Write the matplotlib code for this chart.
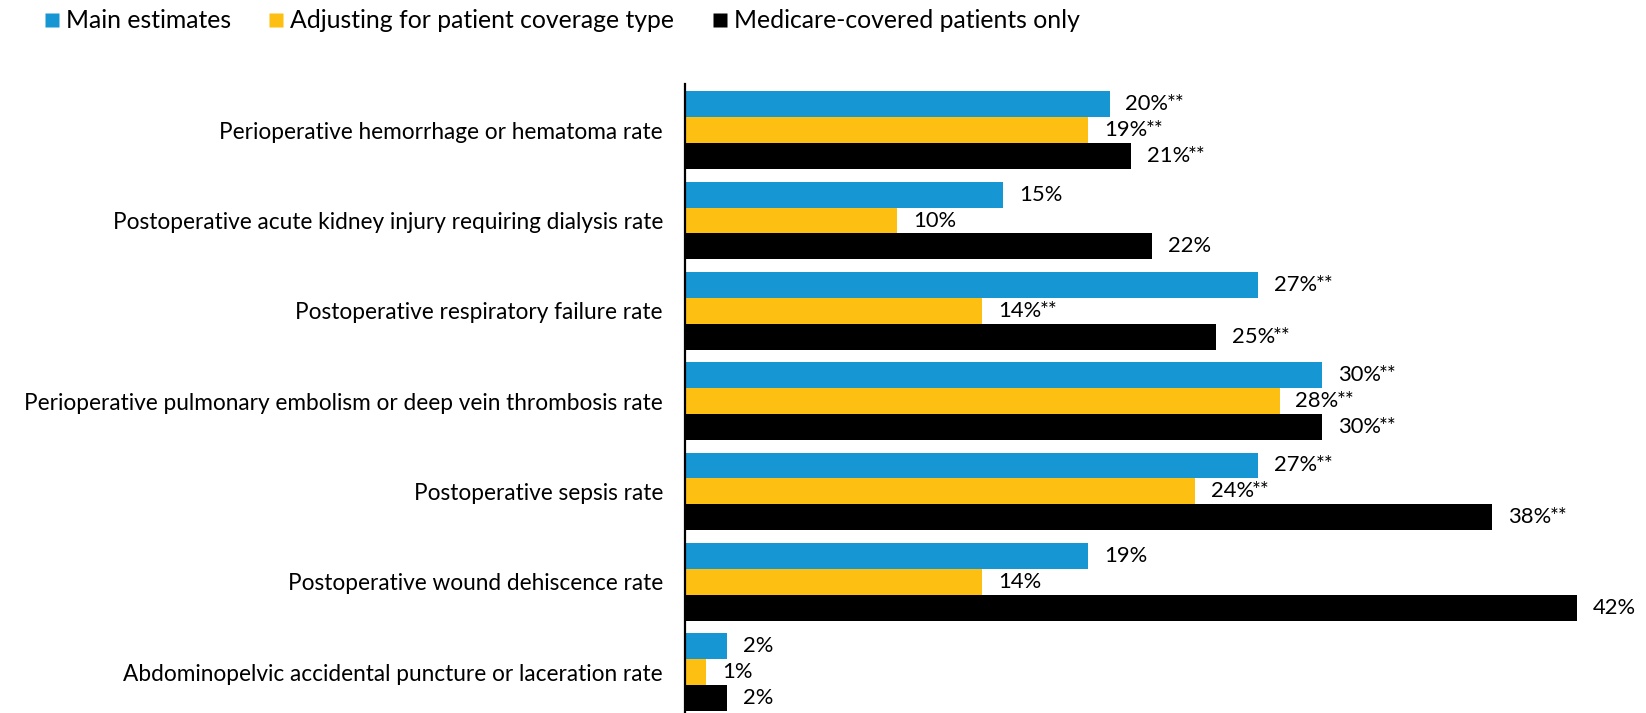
import matplotlib
matplotlib.use("Agg")
import matplotlib.pyplot as plt
from matplotlib.lines import Line2D
import numpy as np

plt.rcParams['font.family'] = ['Lato', 'DejaVu Sans']

categories = [
    "Perioperative hemorrhage or hematoma rate",
    "Postoperative acute kidney injury requiring dialysis rate",
    "Postoperative respiratory failure rate",
    "Perioperative pulmonary embolism or deep vein thrombosis rate",
    "Postoperative sepsis rate",
    "Postoperative wound dehiscence rate",
    "Abdominopelvic accidental puncture or laceration rate",
]
series_names = ["Main estimates", "Adjusting for patient coverage type",
                "Medicare-covered patients only"]
main_vals = [20, 15, 27, 30, 27, 19, 2]
adj_vals = [19, 10, 14, 28, 24, 14, 1]
medicare_vals = [21, 22, 25, 30, 38, 42, 2]
main_sig = [True, False, True, True, True, False, False]
adj_sig = [True, False, True, True, True, False, False]
medicare_sig = [True, False, True, True, True, False, False]

colors = ["#1696d2", "#fdbf11", "#000000"]

W, H = 1646, 713
fig = plt.figure(figsize=(W / 100, H / 100), dpi=100)
ax_left = 684.5 / W
ax_bottom = 0.0
ax_top = 1 - 84 / H
xmax = (W - 684.5) / 21.25
ax = fig.add_axes([ax_left, ax_bottom, 1 - ax_left, ax_top - ax_bottom])

y = np.arange(len(categories))
bh = 0.287
series = [main_vals, adj_vals, medicare_vals]
sigs = [main_sig, adj_sig, medicare_sig]
offsets = [-bh, 0, bh]
fs_cat = 16.3
fs_val = 15.8
for vals, sig, col, off, name in zip(series, sigs, colors, offsets, series_names):
    ax.barh(y + off, vals, height=bh, color=col, label=name, edgecolor='none')
    for yi, v, s in zip(y, vals, sig):
        t = ax.annotate(f"{v}%", xy=(v, yi + off), xytext=(16, 0),
                        textcoords='offset pixels',
                        ha='left', va='center', fontsize=fs_val, color='black')
        if s:
            ax.annotate("**", xy=(1, 1.0), xycoords=t, xytext=(-2, 0),
                        textcoords='offset pixels', ha='left', va='top',
                        fontsize=fs_val * 0.95, color='black')

ax.set_xlim(0, xmax)
ax.set_ylim(len(categories) - 1 + 0.454, -0.512)
ax.set_yticks(y)
ax.set_yticklabels(categories, fontsize=fs_cat)
ax.tick_params(axis='y', length=0, pad=15.5)
ax.set_xticks([])
for sp in ['top', 'right', 'bottom']:
    ax.spines[sp].set_visible(False)
ax.spines['left'].set_linewidth(1.6)
ax.spines['left'].set_color('black')

handles = [Line2D([0], [0], marker='s', color='none', markerfacecolor=c,
                  markeredgecolor='none', markersize=10) for c in colors]
fig.legend(handles, series_names, loc='center left',
           bbox_to_anchor=(45 / W, 1 - 21 / H), ncol=3, frameon=False,
           fontsize=17.8, handlelength=0.55, handletextpad=0.3,
           columnspacing=1.55, borderpad=0, borderaxespad=0)

fig.savefig("out.png", dpi=100)
